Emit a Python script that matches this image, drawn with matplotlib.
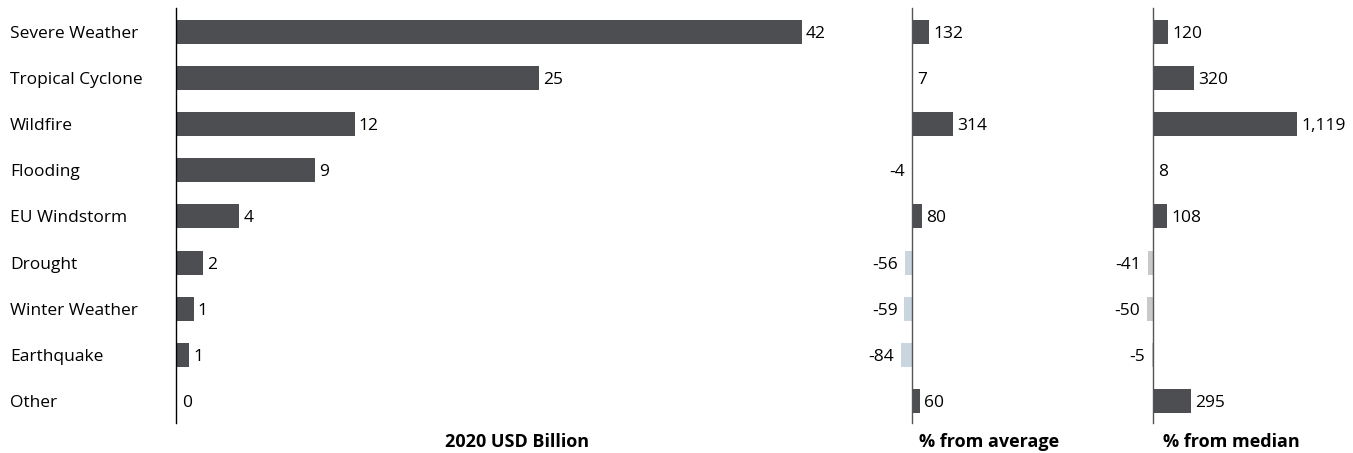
import matplotlib
matplotlib.use("Agg")
import matplotlib.pyplot as plt
import numpy as np

plt.rcParams['font.family'] = ['Open Sans', 'DejaVu Sans']

categories = ["Severe Weather", "Tropical Cyclone", "Wildfire", "Flooding",
              "EU Windstorm", "Drought", "Winter Weather", "Earthquake", "Other"]
losses = [42.4, 24.6, 12.1, 9.4, 4.3, 1.8, 1.2, 0.9, 0.1]   # 2020 USD billion
from_average = [132, 7, 314, -4, 80, -56, -59, -84, 60]      # %
from_median = [120, 320, 1119, 8, 108, -41, -50, -5, 295]    # %

DARK = "#4d4e52"
NEG_AVG = "#c9d6e0"
NEG_MED = "#c9c9c9"
FS = 12.5
FS_BOLD = 13

W, H = 1353, 453
fig = plt.figure(figsize=(W / 100, H / 100), dpi=100)

def axes_px(x0, x1, y0=8, y1=423):
    return fig.add_axes([x0 / W, 1 - y1 / H, (x1 - x0) / W, (y1 - y0) / H])

ax1 = axes_px(176, 858)
ax2 = axes_px(862, 1116)
ax3 = axes_px(1120, 1342)

y = np.arange(len(categories))
bh = 0.52

def style(ax, spine_color):
    for s in ["top", "right", "bottom"]:
        ax.spines[s].set_visible(False)
    ax.spines["left"].set_position(("data", 0))
    ax.spines["left"].set_color(spine_color)
    ax.spines["left"].set_linewidth(1.0)
    ax.set_ylim(len(categories) - 0.52, -0.52)
    ax.set_xticks([])

# panel 1: losses
ax1.barh(y, losses, height=bh, color=DARK)
style(ax1, "black")
ax1.set_xlim(0, 46.2)
ax1.set_yticks(y, categories, fontsize=FS)
ax1.tick_params(axis="y", length=0, pad=119.5)
for lbl in ax1.get_yticklabels():
    lbl.set_horizontalalignment("left")
    lbl.set_verticalalignment("center_baseline")
for yi, v in zip(y, losses):
    ax1.annotate(f"{v:.0f}", (v, yi), xytext=(3, 0), textcoords="offset points",
                 ha="left", va="center_baseline", fontsize=FS)
ax1.set_xlabel("2020 USD Billion", fontsize=FS_BOLD, fontweight="bold", labelpad=7)

def pct_panel(ax, vals, neg_color, xlim, label):
    cols = [DARK if v >= 0 else neg_color for v in vals]
    ax.barh(y, vals, height=bh, color=cols)
    style(ax, "#555555")
    ax.set_yticks([])
    ax.set_xlim(*xlim)
    for yi, v in zip(y, vals):
        if v >= 0:
            ax.annotate(f"{v:,}", (v, yi), xytext=(3, 0), textcoords="offset points",
                        ha="left", va="center_baseline", fontsize=FS)
        else:
            ax.annotate(f"{v:,}", (v, yi), xytext=(-5, 0), textcoords="offset points",
                        ha="right", va="center_baseline", fontsize=FS)
    ax.set_xlabel(label, fontsize=FS_BOLD, fontweight="bold", labelpad=7)

pct_panel(ax2, from_average, NEG_AVG, (-388, 1581), "% from average")
pct_panel(ax3, from_median, NEG_MED, (-256, 1468), "% from median")

fig.savefig("out.png", dpi=100)
